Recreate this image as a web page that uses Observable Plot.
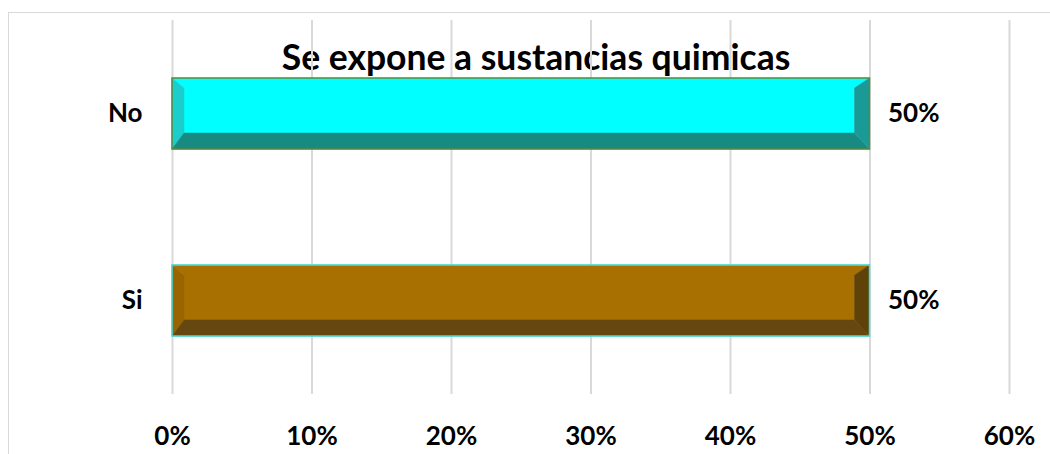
<!DOCTYPE html>
<html>
<head>
<meta charset="utf-8">
<script src="https://cdn.jsdelivr.net/npm/d3@7"></script>
<script src="https://cdn.jsdelivr.net/npm/@observablehq/plot@0.6"></script>
<style>
  html, body { margin: 0; padding: 0; background: #fff; }
  #wrap { position: relative; width: 1050px; height: 454px; overflow: hidden; }
  #border { position: absolute; left: 8px; top: 12px; width: 1080px; height: 500px; border: 1.5px solid #d9d9d9; box-sizing: border-box; }
  #chart { position: absolute; left: 0; top: 0; }
  #chart svg { background: transparent; }
</style>
</head>
<body>
<div id="wrap"><div id="border"></div><div id="chart"></div></div>
<script>
const title = "Se expone a sustancias quimicas";
const categories = ["No", "Si"];
const values = [0.50, 0.50];
const valueLabels = ["50%", "50%"];
const xTicks = [0, 0.1, 0.2, 0.3, 0.4, 0.5, 0.6];
const faceColors = {
  No: {main: "#00ffff", left: "#1bcdcd", bottom: "#178a82", right: "#1a9a97", stroke: "#5b8a3c"},
  Si: {main: "#a87000", left: "#9a6500", bottom: "#674710", right: "#5e4208", stroke: "#40e0e0"}
};

const data = categories.map((c, i) => ({cat: c, v: values[i], label: valueLabels[i]}));
const FONT = "Lato, 'Open Sans', sans-serif";
const barH = 71;

function bevelRender(index, scales, vals, dims, context) {
  const g = d3.create("svg:g");
  const bw = scales.y.bandwidth ? scales.y.bandwidth() : 0;
  for (const i of index) {
    const d = data[i];
    const c = faceColors[d.cat];
    const L = scales.x(0), R = scales.x(d.v);
    const yc = scales.y(d.cat) + bw / 2;
    const T = yc - barH / 2, B = yc + barH / 2;
    const il = 12, ir = 15, it = 10, ib = 16;
    const polys = [
      {p: [[L,T],[R,T],[R-ir,T+it],[L+il,T+it]], f: c.main},
      {p: [[L+il,T+it],[R-ir,T+it],[R-ir,B-ib],[L+il,B-ib]], f: c.main},
      {p: [[L,T],[L+il,T+it],[L+il,B-ib],[L,B]], f: c.left},
      {p: [[L,B],[L+il,B-ib],[R-ir,B-ib],[R,B]], f: c.bottom},
      {p: [[R,T],[R,B],[R-ir,B-ib],[R-ir,T+it]], f: c.right}
    ];
    for (const q of polys) {
      g.append("polygon").attr("points", q.p.map(a => a.join(",")).join(" "))
        .attr("fill", q.f).attr("stroke", q.f).attr("stroke-width", 0.5);
    }
    g.append("rect").attr("x", L).attr("y", T).attr("width", R - L).attr("height", B - T)
      .attr("fill", "none").attr("stroke", c.stroke).attr("stroke-width", 1.5);
  }
  return g.node();
}

const plot = Plot.plot({
  width: 1050,
  height: 454,
  marginLeft: 172,
  marginRight: 41,
  marginTop: 20,
  marginBottom: 60,
  style: {fontFamily: FONT, background: "transparent", overflow: "visible"},
  x: {domain: [0, 0.6], ticks: xTicks, tickFormat: d3.format(".0%")},
  y: {domain: categories, padding: 0},
  marks: [
    Plot.text([title], {frameAnchor: "top", dx: -55, dy: 24, fontSize: 35.5, fontWeight: "bold", fill: "#000", lineAnchor: "top"}),
    Plot.gridX(xTicks, {stroke: "#d9d9d9", strokeOpacity: 1, strokeWidth: 2}),
    Plot.axisX(xTicks, {tickSize: 0, tickPadding: 32, fontSize: 26, fontWeight: "bold", fill: "#000", tickFormat: d3.format(".0%"), label: null}),
    Plot.axisY({tickSize: 0, tickPadding: 30, fontSize: 26, fontWeight: "bold", fill: "#000", label: null}),
    Plot.barX(data, {x: "v", y: "cat", render: bevelRender}),
    Plot.text(data, {x: "v", y: "cat", text: "label", dx: 18, textAnchor: "start", fontSize: 26, fontWeight: "bold", fill: "#000"})
  ]
});
document.getElementById("chart").appendChild(plot);
</script>
</body>
</html>
